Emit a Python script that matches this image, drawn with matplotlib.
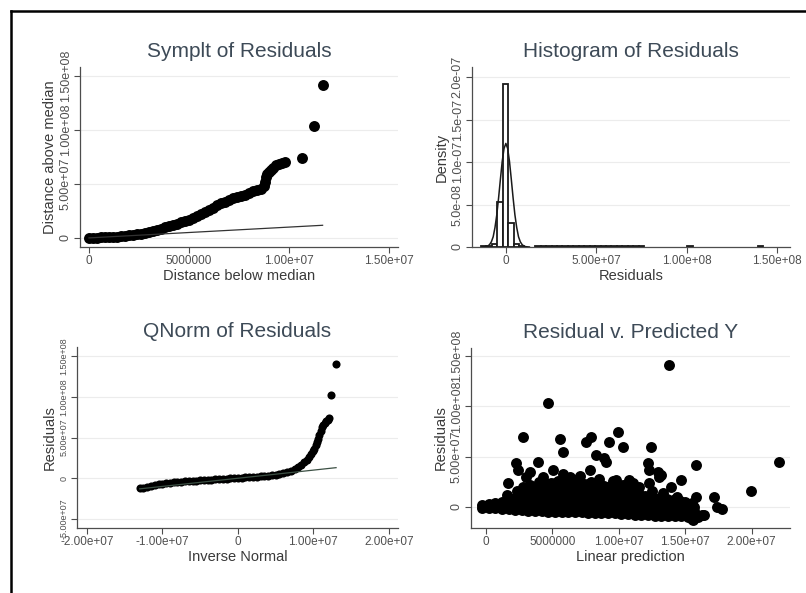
import numpy as np
import matplotlib
matplotlib.use("Agg")
import matplotlib.pyplot as plt
from matplotlib.lines import Line2D

plt.rcParams['font.family'] = ['Liberation Sans', 'DejaVu Sans']

M = 1e6  # most values below are in millions

# symplot: distance below / above the median (millions)
sym_below = [0.0, 0.2, 0.4, 0.6, 0.8, 1.0, 1.2, 1.4, 1.6, 1.8,
             2.0, 2.2, 2.4, 2.6, 2.8, 3.0, 3.2, 3.4, 3.6, 3.8,
             4.0, 4.2, 4.4, 4.6, 4.8, 5.0, 5.2, 5.4, 5.6, 5.8,
             6.0, 6.2, 6.4, 6.6, 6.8, 7.0, 7.2, 7.4, 7.6, 7.8,
             8.0, 8.2, 8.4, 8.6, 8.75, 8.8, 8.85, 8.9, 9.0, 9.1,
             9.2, 9.35, 9.5, 9.65, 9.8, 10.67, 11.27, 11.68]
sym_above = [0.0, 0.1, 0.2, 0.4, 0.6, 0.8, 1.0, 1.3, 1.6, 1.9,
             2.3, 2.8, 3.3, 3.9, 4.6, 5.5, 6.4, 7.4, 8.5, 9.7,
             10.9, 12.0, 13.2, 14.4, 15.6, 17.0, 18.5, 20.2, 22.0, 23.8,
             25.5, 28.0, 30.5, 32.0, 33.5, 35.0, 36.5, 37.5, 38.5, 40.0,
             41.5, 43.0, 44.5, 45.5, 48.0, 52.0, 56.0, 59.0, 61.0, 63.0,
             65.0, 67.0, 68.0, 69.5, 70.0, 74.0, 103.0, 141.5]

# histogram: bin left edges (millions) and density (1e-8)
hist_width = 3.0
hist_left = [-13.7, -10.7, -7.7, -4.7, -1.7, 1.3, 4.3, 7.3,
             16.3, 19.3, 22.3, 25.3, 28.3, 31.3, 34.3, 37.3, 40.3, 43.3,
             46.3, 49.3, 52.3, 55.3, 58.3, 61.3, 64.3, 67.3, 70.3, 73.3,
             100.3, 139.3]
hist_density = [0.08, 0.1, 0.3, 5.3, 19.2, 2.8, 0.35, 0.08,
                0.06, 0.06, 0.06, 0.06, 0.06, 0.06, 0.06, 0.06, 0.06, 0.06,
                0.06, 0.06, 0.06, 0.06, 0.06, 0.06, 0.06, 0.06, 0.06, 0.06,
                0.06, 0.06]
# normal density overlay (millions, 1e-8)
norm_x = [-13, -12, -11, -10, -9, -8, -7, -6, -5, -4, -3, -2, -1, 0,
          1, 2, 3, 4, 5, 6, 7, 8, 9, 10, 11, 12, 13]
norm_y = [0.0, 0.02, 0.04, 0.11, 0.28, 0.61, 1.2, 2.3, 3.8, 5.8, 8.0, 10.1, 11.6, 12.2,
          11.6, 10.1, 8.0, 5.8, 3.8, 2.3, 1.2, 0.61, 0.28, 0.11, 0.04, 0.02, 0.0]

# qnorm: inverse normal vs residual (millions)
qn_inv = [-13.0, -12.5, -12.0, -11.5, -11.0, -10.5, -10.0, -9.5, -9.0, -8.5,
          -8.0, -7.5, -7.0, -6.5, -6.0, -5.5, -5.0, -4.5, -4.0, -3.5,
          -3.0, -2.5, -2.0, -1.5, -1.0, -0.5, 0.0, 0.5, 1.0, 1.5,
          2.0, 2.5, 3.0, 3.5, 4.0, 4.5, 5.0, 5.5, 6.0, 6.5,
          7.0, 7.5, 8.0, 8.4, 8.8, 9.1, 9.4, 9.7, 9.9, 10.1,
          10.3, 10.5, 10.65, 10.8, 10.95, 11.1, 11.3, 11.5, 11.7, 11.9,
          12.1, 12.35, 13.0]
qn_resid = [-12.5, -11.5, -10.5, -9.5, -8.5, -7.5, -6.7, -6.0, -5.4, -5.0,
            -4.6, -4.2, -3.9, -3.6, -3.2, -2.9, -2.6, -2.3, -2.0, -1.7,
            -1.4, -1.1, -0.8, -0.5, -0.2, 0.1, 0.4, 0.7, 1.0, 1.3,
            1.7, 2.0, 2.4, 2.8, 3.3, 3.9, 4.6, 5.5, 6.5, 7.8,
            9.5, 11.5, 14.0, 16.5, 19.5, 22.5, 26.0, 30.0, 33.0, 36.5,
            40.5, 44.5, 48.5, 53.0, 58.0, 62.5, 65.5, 68.0, 70.0, 72.0,
            74.0, 102.0, 140.5]

# residual vs linear prediction: dense cloud, column by column (millions)
cloud_cols = [-0.3, 0.2, 0.7, 1.2, 1.7, 2.2, 2.7, 3.2, 3.7, 4.2, 4.7, 5.2,
              5.7, 6.2, 6.7, 7.2, 7.7, 8.2, 8.7, 9.2, 9.7, 10.2, 10.7, 11.2,
              11.7, 12.2, 12.7, 13.2, 13.7, 14.2, 14.7, 15.2, 15.7]
cloud_rows = [[-1, 2], [-1, 3], [-1.5, 4], [-2, 4.5], [-2.5, 3.5, 8],
              [-3, 3, 9], [-3.5, 2.5, 8, 12, 16], [-4, 2, 8, 13, 18],
              [-4, 2, 8, 14, 19], [-4.5, 1.5, 7.5, 13, 17, 22],
              [-5, 1, 7, 13, 18, 23], [-5, 1, 7, 13, 19, 24],
              [-5, 1, 7, 13, 20, 25], [-5, 1, 7, 13, 19, 24], [-5, 1, 7, 13, 19, 24],
              [-5, 1, 7, 13, 18, 23], [-5.5, 0.5, 6.5, 12.5, 18, 23],
              [-5.5, 0.5, 6.5, 12, 17, 22], [-5.5, 0.5, 6.5, 12, 16, 21],
              [-6, 0, 6, 11, 15, 20], [-6, 0, 6, 11, 14, 18],
              [-6.5, -0.5, 5.5, 12, 16], [-7, -1, 5, 11], [-8, -2, 4, 9], [-8, -2, 3, 8],
              [-8, -2, 2.5, 7], [-8.5, -3, 2, 6], [-8.5, -3, 1, 5], [-8.5, -3, 1, 4],
              [-9, -4, 0, 3], [-9, -4, 0, 2], [-10, -5, 0.5], [-9, -4, 0]]
# scattered points above and around the cloud (millions)
sparse_pred = [1.6, 2.3, 2.8, 3.3, 3.6, 4.0, 4.4, 4.9, 5.4, 5.9, 6.5, 6.9, 7.4, 7.9,
               8.4, 8.9, 9.4, 9.9, 10.4, 10.9, 11.5, 12.0, 12.6, 13.1, 13.6, 14.1,
               14.6, 3.0, 4.3, 5.8, 7.1, 8.5, 9.6, 10.3, 11.0, 12.5, 13.3, 14.4,
               15.0, 15.5, 15.5, 16.0, 16.4]
sparse_resid = [12, 16, 20, 22, 19, 25, 22, 24, 26, 25, 24, 28, 23, 25,
                22, 21, 20, 19, 17, 15, 13, 11, 10, 9, 8, 7,
                6, 30, 30, 33, 31, 28, 26, 22, 21, 16, 14, 10,
                5, 4, -12, -10, -8]
out_pred = [13.81, 4.66, 2.78, 5.54, 5.79, 7.54, 7.92, 9.3, 9.92, 10.3, 8.25, 8.92,
            9.04, 12.43, 12.2, 12.3, 12.93, 13.2, 15.8, 22.08, 19.95, 17.2, 17.4,
            17.8, 13.9, 14.7, 2.28, 2.4, 3.91, 1.65, 3.28, 5.04, 15.8, 15.56, 16.3,
            15.56, 10.8, 11.05, 11.55, 12.3, 13.06, 6.29, 6.79, 7.8, 9.8]
out_resid = [141, 103, 70, 67.6, 55, 65, 70, 65, 75, 60, 51.7, 48.4,
             45, 60, 43.4, 36.8, 35.1, 31.8, 41.7, 44.4, 15.9, 10.3, 0.3,
             -2, 20.2, 26.8, 43.4, 36.8, 45, 23.5, 35, 36.8, 10.3, 0.3, -8,
             -12.9, 26.8, 23.5, 20.2, 23.5, 30, 30, 23.5, 36.8, 26.8]

TITLE_C = '#3d4a57'
TEXT_C = '#3a3a3a'
AXIS_C = '#4d4d4d'


def setup(ax, title, xlabel, ylabel, xlim, ylim, xticks, xlabels, yticks, ylabels,
          ysize=9):
    ax.set_xlim(xlim)
    ax.set_ylim(ylim)
    for s in ('top', 'right'):
        ax.spines[s].set_visible(False)
    for s in ('left', 'bottom'):
        ax.spines[s].set_color(AXIS_C)
        ax.spines[s].set_linewidth(0.9)
    ax.set_xticks(xticks)
    ax.set_xticklabels(xlabels)
    ax.set_yticks(yticks)
    ax.set_yticklabels(ylabels, rotation=90, va='center')
    ax.tick_params(direction='out', length=4, width=0.8, colors=AXIS_C,
                   labelcolor='#505050', labelsize=8.5, pad=2)
    ax.tick_params(axis='y', labelsize=ysize)
    ax.yaxis.grid(True, color='#ececec', lw=0.8)
    ax.set_axisbelow(True)
    ax.set_title(title, fontsize=15, color=TITLE_C, pad=7)
    ax.set_xlabel(xlabel, fontsize=10.5, color=TEXT_C, labelpad=1)
    ax.set_ylabel(ylabel, fontsize=10.5, color=TEXT_C, labelpad=2)


fig = plt.figure(figsize=(8.06, 5.93), dpi=100)

# outer frame (left and top edges visible)
fig.add_artist(Line2D([11 / 806, 11 / 806], [0, 1 - 11 / 593], color='black', lw=1.8))
fig.add_artist(Line2D([11 / 806, 1], [1 - 11 / 593, 1 - 11 / 593], color='black', lw=1.8))

# --- Symplot
ax1 = fig.add_axes([80 / 806, 1 - 247 / 593, 318 / 806, 180 / 593])
sb = np.array(sym_below) * M
sa = np.array(sym_above) * M
ax1.scatter(sb, sa, s=62, color='black', lw=0, zorder=2)
ax1.plot([0, sb.max()], [0, sb.max()], color='#333333', lw=0.9, zorder=3)
setup(ax1, 'Symplt of Residuals', 'Distance below median', 'Distance above median',
      (-0.45e6, 15.45e6), (-8.4e6, 1.58e8),
      [0, 5e6, 1e7, 1.5e7], ['0', '5000000', '1.00e+07', '1.50e+07'],
      [0, 5e7, 1e8, 1.5e8], ['0', '5.00e+07', '1.00e+08', '1.50e+08'])

# --- Histogram
ax2 = fig.add_axes([472 / 806, 1 - 247 / 593, 318 / 806, 180 / 593])
ax2.bar(np.array(hist_left) * M, np.array(hist_density) * 1e-8, width=hist_width * M,
        align='edge', facecolor='white', edgecolor='#1a1a1a', lw=1.3, zorder=2)
ax2.plot(np.array(norm_x) * M, np.array(norm_y) * 1e-8, color='#1a1a1a', lw=1.1, zorder=3)
setup(ax2, 'Histogram of Residuals', 'Residuals', 'Density',
      (-1.87e7, 1.57e8), (0, 2.12e-7),
      [0, 5e7, 1e8, 1.5e8], ['0', '5.00e+07', '1.00e+08', '1.50e+08'],
      [0, 5e-8, 1e-7, 1.5e-7, 2e-7], ['0', '5.0e-08', '1.0e-07', '1.5e-07', '2.0e-07'])

# --- QNorm
ax3 = fig.add_axes([77 / 806, 1 - 528 / 593, 321 / 806, 181 / 593])
qx = np.array(qn_inv) * M
qy = np.array(qn_resid) * M
ax3.scatter(qx, qy, s=34, color='black', lw=0, zorder=2)
ax3.plot([qx.min(), qx.max()], [qx.min(), qx.max()], color='#3c5044', lw=0.9, zorder=3)
setup(ax3, 'QNorm of Residuals', 'Inverse Normal', 'Residuals',
      (-2.13e7, 2.12e7), (-6.1e7, 1.61e8),
      [-2e7, -1e7, 0, 1e7, 2e7], ['-2.00e+07', '-1.00e+07', '0', '1.00e+07', '2.00e+07'],
      [-5e7, 0, 5e7, 1e8, 1.5e8], ['-5.00e+07', '0', '5.00e+07', '1.00e+08', '1.50e+08'],
      ysize=6.5)

# --- Residual vs predicted
ax4 = fig.add_axes([471 / 806, 1 - 528 / 593, 319 / 806, 180 / 593])
cx = np.concatenate([[c] * len(r) for c, r in zip(cloud_cols, cloud_rows)] + [sparse_pred, out_pred])
cy = np.concatenate([r for r in cloud_rows] + [sparse_resid, out_resid])
ax4.scatter(cx * M, cy * M, s=62, color='black', lw=0, zorder=2)
setup(ax4, 'Residual v. Predicted Y', 'Linear prediction', 'Residuals',
      (-1.13e6, 2.29e7), (-2.09e7, 1.58e8),
      [0, 5e6, 1e7, 1.5e7, 2e7], ['0', '5000000', '1.00e+07', '1.50e+07', '2.00e+07'],
      [0, 5e7, 1e8, 1.5e8], ['0', '5.00e+07', '1.00e+08', '1.50e+08'])

fig.savefig('out.png', dpi=100)
